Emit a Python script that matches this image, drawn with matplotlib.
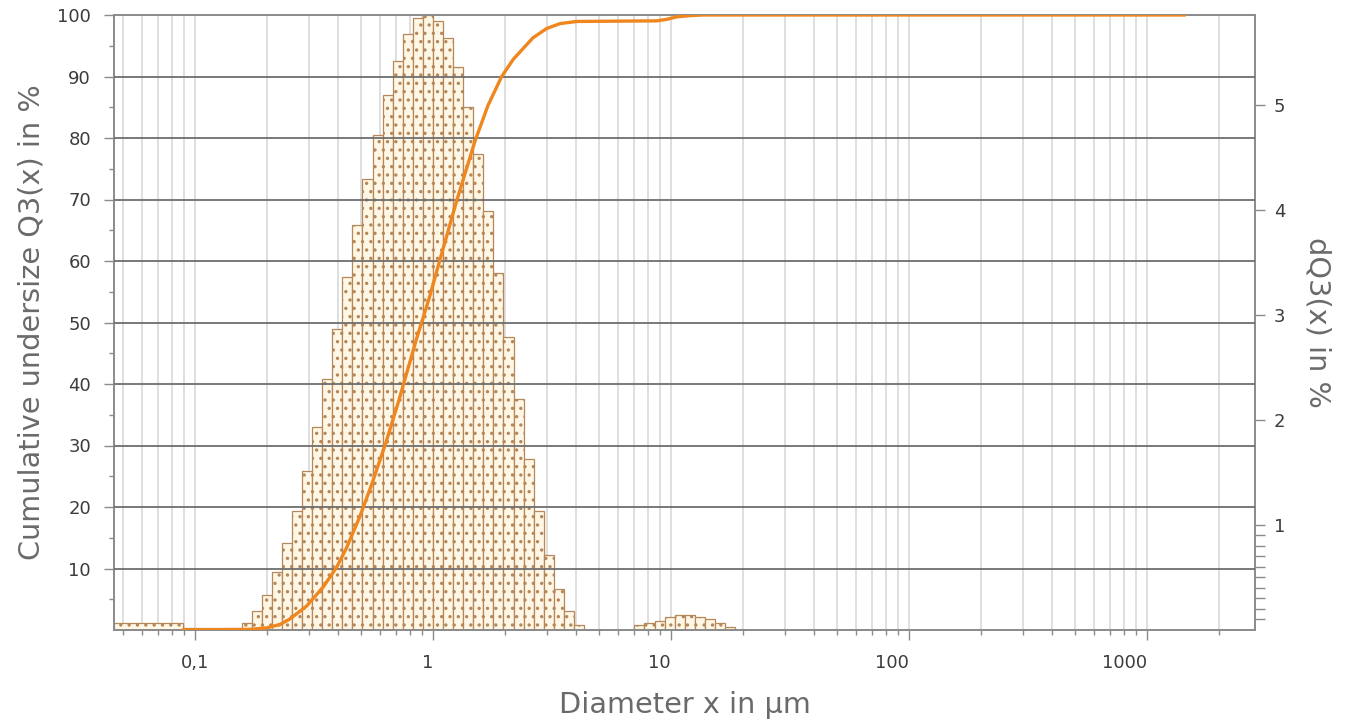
import numpy as np
import matplotlib
matplotlib.use("Agg")
import matplotlib.pyplot as plt
from matplotlib.ticker import FixedLocator, NullFormatter, LogLocator

plt.rcParams['font.family'] = ['DejaVu Sans']
plt.rcParams['hatch.linewidth'] = 1.2

# ---- size classes (log-spaced, in µm) ----
class_lo = 0.1571          # lower edge of the first fine class
class_step = 0.04231       # log10 width of one class

# density distribution dQ3 (%) of the main mode, classes 0..33
dq3_main = [0.07, 0.184, 0.333, 0.555, 0.831, 1.136, 1.517, 1.936, 2.39, 2.867,
            3.365, 3.857, 4.295, 4.714, 5.095, 5.419, 5.673, 5.826, 5.857, 5.80,
            5.635, 5.365, 4.984, 4.53, 3.994, 3.403, 2.793, 2.2, 1.629, 1.133,
            0.714, 0.387, 0.181, 0.048]
# coarse mode, classes 39..48
dq3_coarse = [0.048, 0.07, 0.086, 0.127, 0.143, 0.143, 0.127, 0.10, 0.07, 0.03]
coarse_first_class = 39

# the two wide classes below the fine grid
wide_edges = [0.0457, 0.089, 0.1571]
dq3_wide = [0.067, 0.015]

# cumulative undersize Q3 (%)
q3_x = [0.089, 0.1703, 0.2001, 0.2276, 0.2507, 0.2946, 0.3459, 0.3939, 0.4339,
        0.4935, 0.5543, 0.6346, 0.7148, 0.854, 0.9649, 1.070, 1.258, 1.502,
        1.703, 1.944, 2.175, 2.632, 3.004, 3.417, 4.017, 8.708, 9.62, 10.57,
        12.02, 13.63, 1444]
q3_y = [0, 0.1, 0.35, 0.9, 1.8, 3.9, 7.0, 10.2, 13.4, 18.5, 23.8, 30.5, 37.0, 47.4,
        54.0, 60.2, 69.8, 79.5, 85.3, 90.0, 92.8, 96.3, 97.8, 98.6, 98.95, 99.05,
        99.3, 99.7, 99.9, 100, 100]

x_ticks = [0.1, 1, 10, 100, 1000]
x_ticklabels = ["0,1", "1", "10", "100", "1000"]
left_ticks = [10, 20, 30, 40, 50, 60, 70, 80, 90, 100]
right_ticks = [1, 2, 3, 4, 5]

xmin, xmax = 0.0457, 2843
dq_max = 5.857

fig = plt.figure(figsize=(13.51, 7.27), dpi=100)
ax = fig.add_axes([114 / 1351, 97 / 727, (1255 - 114) / 1351, (630 - 15) / 727])
ax2 = ax.twinx()
# cumulative axis (left) drawn above the histogram axis
ax.set_zorder(ax2.get_zorder() + 1)
ax.patch.set_visible(False)

bar_face = '#FFF7E6'
bar_edge = '#B58759'


def draw_bars(edges, heights):
    edges = np.asarray(edges)
    ax2.bar(edges[:-1], heights, width=np.diff(edges), align='edge',
            facecolor=bar_face, edgecolor=bar_edge, linewidth=0.9,
            hatch='..', zorder=2)


main_edges = class_lo * 10 ** (class_step * np.arange(len(dq3_main) + 1))
coarse_edges = class_lo * 10 ** (class_step * (coarse_first_class + np.arange(len(dq3_coarse) + 1)))
draw_bars(wide_edges, dq3_wide)
draw_bars(main_edges, dq3_main)
draw_bars(coarse_edges, dq3_coarse)

ax.plot(q3_x, q3_y, color='#F0861E', lw=2.4, solid_capstyle='round',
        solid_joinstyle='round', zorder=5)

for a in (ax, ax2):
    a.set_xscale('log')
    a.set_xlim(xmin, xmax)
ax.set_ylim(0, 100)
ax2.set_ylim(0, dq_max)

# vertical grid (light) behind the bars
grid_pos = [m * 10.0 ** e for e in range(-2, 4) for m in range(1, 10)]
grid_pos = [g for g in grid_pos if xmin < g < xmax]
for g in grid_pos:
    ax2.axvline(g, color='#D9D9D9', lw=1.2, zorder=0)

# horizontal grid (dark) on the cumulative scale
for t in left_ticks[:-1]:
    ax.axhline(t, color='#6E6E6E', lw=1.3, zorder=3)

tick_col = '#8A8A8A'
txt_col = '#3C3C3C'
ax.xaxis.set_major_locator(FixedLocator(x_ticks))
ax.set_xticklabels(x_ticklabels)
ax.xaxis.set_minor_locator(LogLocator(base=10, subs=np.arange(2, 10)))
ax.xaxis.set_minor_formatter(NullFormatter())
ax2.xaxis.set_visible(False)

ax.yaxis.set_major_locator(FixedLocator(left_ticks))
ax.yaxis.set_minor_locator(FixedLocator(np.arange(5, 100, 10)))
ax2.yaxis.set_major_locator(FixedLocator(right_ticks))
ax2.yaxis.set_minor_locator(FixedLocator(np.arange(0.1, 1.0, 0.1)))

ax.tick_params(axis='both', which='major', direction='out', length=7.5, width=1,
               color=tick_col, labelsize=13, labelcolor=txt_col)
ax.tick_params(axis='y', which='major', pad=9)
ax.tick_params(axis='x', which='major', pad=10)
ax.tick_params(axis='both', which='minor', direction='out', length=3.8, width=1,
               color=tick_col)
ax2.tick_params(axis='y', which='major', direction='out', length=7.5, width=1,
                color=tick_col, labelsize=13, labelcolor=txt_col, pad=6)
ax2.tick_params(axis='y', which='minor', direction='out', length=7.5, width=1,
                color=tick_col)

# decade labels sit to the left of their tick, except the first one
for lbl in ax.get_xticklabels():
    lbl.set_ha('center' if lbl.get_text() == "0,1" else 'right')
    if lbl.get_text() not in ("0,1",):
        lbl.set_x(lbl.get_position()[0])

for a in (ax, ax2):
    for s in a.spines.values():
        s.set_color('#8C8C8C')
        s.set_linewidth(1.3)

lab_col = '#6A6A6A'
ax.set_xlabel('Diameter x in µm', fontsize=20.7, color=lab_col, va='center')
ax.xaxis.set_label_coords(0.5, -0.122)
ax.set_ylabel('Cumulative undersize Q3(x) in %', fontsize=20.7, color=lab_col, va='center')
ax.yaxis.set_label_coords(-0.0727, 0.5)
ax2.set_ylabel('dQ3(x) in %', fontsize=20.7, color=lab_col, rotation=270, va='center')
ax2.yaxis.set_label_coords(1.0552, 0.5)

fig.savefig('out.png', dpi=100, facecolor='white')
